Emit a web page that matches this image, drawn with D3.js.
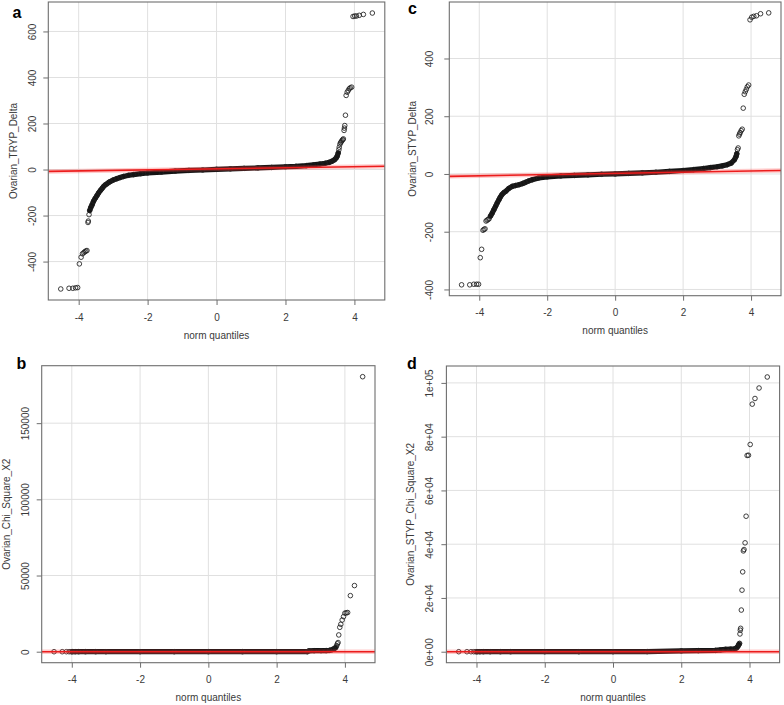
<!DOCTYPE html>
<html><head><meta charset="utf-8">
<script src="https://cdn.jsdelivr.net/npm/d3@7"></script>
<style>body{margin:0;background:#fff}svg{display:block}</style>
</head><body>
<svg id="chart" width="784" height="705"></svg>
<script>
// ---------- data ----------
const xTicks = [-4, -2, 0, 2, 4];
const xTickLabels = ["-4", "-2", "0", "2", "4"];
const xTitle = "norm quantiles";

// Panel a: Ovarian_TRYP_Delta  [norm quantile, value]
const aBody = [[-3.68,-178],[-3.65,-165],[-3.61,-153],[-3.57,-138],[-3.52,-125],[-3.47,-113],[-3.42,-101],[-3.37,-91],[-3.32,-82],[-3.28,-74],[-3.23,-67],[-3.18,-62],[-3.13,-56],[-3.08,-52],[-2.99,-45],[-2.9,-40],[-2.8,-35],[-2.7,-30],[-2.55,-25],[-2.41,-22],[-2.2,-18],[-2.0,-15],[-1.6,-11],[-1.2,-7],[-0.8,-4],[-0.4,-2],[0,1],[0.4,3],[0.8,5],[1.2,7],[1.6,9],[2.0,12],[2.3,14],[2.6,17],[2.8,20],[3.0,24],[3.15,27],[3.27,31],[3.35,36],[3.42,42],[3.47,50],[3.50,58],[3.53,72]];
const aOut = [[-4.52,-519],[-4.28,-516],[-4.17,-516],[-4.09,-514],[-4.03,-513],[-3.98,-410],[-3.93,-381],[-3.89,-366],[-3.85,-361],[-3.82,-357],[-3.79,-354],[-3.76,-352],[-3.73,-230],[-3.72,-224],[-3.70,-196],[3.55,86],[3.56,97],[3.58,110],[3.60,117],[3.62,121],[3.64,126],[3.66,130],[3.68,133],[3.70,170],[3.71,180],[3.72,191],[3.74,236],[3.76,322],[3.79,336],[3.82,343],[3.85,351],[3.88,355],[3.92,358],[3.96,665],[4.01,667],[4.06,667],[4.14,670],[4.26,674],[4.52,680]];
const aLine = [3, 2.3];            // qqline intercept, slope
const aYTicks = [-400, -200, 0, 200, 400, 600];
const aYLabels = ["-400", "-200", "0", "200", "400", "600"];

// Panel c: Ovarian_STYP_Delta
const cBody = [[-3.67,-146],[-3.62,-136],[-3.57,-124],[-3.52,-112],[-3.47,-100],[-3.42,-89],[-3.38,-80],[-3.33,-71],[-3.28,-65],[-3.22,-60],[-3.13,-50],[-3.03,-43],[-2.93,-40],[-2.83,-37],[-2.72,-33],[-2.64,-29],[-2.54,-24],[-2.44,-20],[-2.25,-14],[-2.0,-10],[-1.6,-7],[-1.2,-5],[-0.8,-3],[-0.4,-1],[0,0],[0.4,2],[0.8,4],[1.2,6],[1.6,9],[2.0,12],[2.3,15],[2.6,19],[2.8,22],[3.0,25],[3.15,28],[3.3,32],[3.42,38],[3.51,49],[3.56,61],[3.58,70]];
const cOut = [[-4.52,-384],[-4.28,-384],[-4.16,-382],[-4.08,-382],[-4.02,-382],[-3.97,-290],[-3.93,-261],[-3.89,-195],[-3.86,-192],[-3.83,-190],[-3.80,-163],[-3.77,-160],[-3.74,-158],[-3.71,-155],[3.60,84],[3.62,90],[3.64,132],[3.66,138],[3.68,143],[3.71,150],[3.74,155],[3.77,228],[3.80,276],[3.83,285],[3.86,293],[3.89,302],[3.93,308],[3.97,534],[4.02,543],[4.08,546],[4.16,548],[4.28,555],[4.52,558]];
const cLine = [2, 2.1];
const cYTicks = [-400, -200, 0, 200, 400];
const cYLabels = ["-400", "-200", "0", "200", "400"];

// Panel b: Ovarian_Chi_Square_X2
const bBody = [[-3.98,0],[-3.9,0],[-3.8,0],[-3.6,0],[-3.3,0],[-3,0],[-2,0],[-1,0],[0,0],[1,0],[2,0],[2.9,0],[2.95,600],[3.1,650],[3.3,700],[3.45,750],[3.55,900],[3.62,1300],[3.67,1800],[3.72,2500]];
const bOut = [[-4.52,0],[-4.28,0],[-4.16,0],[-4.08,0],[-4.02,0],[3.74,3000],[3.76,4000],[3.78,5200],[3.80,6000],[3.82,11000],[3.85,16000],[3.88,18000],[3.92,20800],[3.96,23000],[4.00,25300],[4.04,25500],[4.08,25700],[4.16,36800],[4.28,43400],[4.52,180500]];
const bLine = [0, 0];
const bYTicks = [0, 50000, 100000, 150000];
const bYLabels = ["0", "50000", "100000", "150000"];

// Panel d: Ovarian_STYP_Chi_Square_X2
const dBody = [[-3.98,0],[-3.9,0],[-3.8,0],[-3.6,0],[-3.3,0],[-3,0],[-2,0],[-1,0],[0,0],[1,50],[2,300],[2.5,400],[3.0,500],[3.15,700],[3.3,900],[3.45,950],[3.55,1000],[3.62,1400],[3.66,2000],[3.69,2700]];
const dOut = [[-4.52,0],[-4.28,0],[-4.16,0],[-4.08,0],[-4.02,0],[3.70,3000],[3.71,3100],[3.72,6600],[3.73,8000],[3.74,8700],[3.76,15500],[3.78,22900],[3.80,29700],[3.82,37500],[3.84,38000],[3.87,40500],[3.90,50400],[3.93,73000],[3.97,73100],[4.02,77100],[4.08,92100],[4.16,94200],[4.28,98100],[4.52,102200]];
const dLine = [0, 0];
const dYTicks = [0, 20000, 40000, 60000, 80000, 100000];
const dYLabels = ["0e+00", "2e+04", "4e+04", "6e+04", "8e+04", "1e+05"];

// ---------- layout ----------
const panels = [
  {letter:"a", body:aBody, out:aOut, line:aLine, yTicks:aYTicks, yLabels:aYLabels, yTitle:"Ovarian_TRYP_Delta",
   box:{l:48.3, r:384.8, t:2, b:300}, tickOff:16.3, titleOff:35.2, letterX:12.5, letterY:17.5},
  {letter:"c", body:cBody, out:cOut, line:cLine, yTicks:cYTicks, yLabels:cYLabels, yTitle:"Ovarian_STYP_Delta",
   box:{l:449.3, r:781, t:2, b:295.7}, tickOff:20, titleOff:36.4, letterX:408, letterY:13.5},
  {letter:"b", body:bBody, out:bOut, line:bLine, yTicks:bYTicks, yLabels:bYLabels, yTitle:"Ovarian_Chi_Square_X2",
   box:{l:41.7, r:375, t:365.7, b:662.7}, tickOff:16.5, titleOff:35, letterX:16.5, letterY:368.5},
  {letter:"d", body:dBody, out:dOut, line:dLine, yTicks:dYTicks, yLabels:dYLabels, yTitle:"Ovarian_STYP_Chi_Square_X2",
   box:{l:446.4, r:779.6, t:366, b:662.7}, tickOff:17, titleOff:36, letterX:407, letterY:368.5}
];

const FONT = "'Liberation Sans', Arial, Helvetica, sans-serif";
const svg = d3.select("#chart");

function padded(ext) {           // R style 4% axis extension
  const d = (ext[1] - ext[0]) * 0.04;
  return [ext[0] - d, ext[1] + d];
}

panels.forEach((p, pi) => {
  const all = p.body.concat(p.out);
  const bx = p.box;
  const x = d3.scaleLinear().domain(padded(d3.extent(all, d => d[0]))).range([bx.l, bx.r]);
  const y = d3.scaleLinear().domain(padded(d3.extent(all, d => d[1]))).range([bx.b, bx.t]);
  const g = svg.append("g");

  // grid
  g.append("g").selectAll("line").data(xTicks).join("line")
    .attr("x1", d => x(d)).attr("x2", d => x(d)).attr("y1", bx.t).attr("y2", bx.b)
    .attr("stroke", "#e0e0e0").attr("stroke-width", 1);
  g.append("g").selectAll("line").data(p.yTicks).join("line")
    .attr("y1", d => y(d)).attr("y2", d => y(d)).attr("x1", bx.l).attr("x2", bx.r)
    .attr("stroke", "#e0e0e0").attr("stroke-width", 1);

  // dense body of points
  const line = d3.line().x(d => x(d[0])).y(d => y(d[1]));
  g.append("path").datum(p.body).attr("d", line)
    .attr("fill", "none").attr("stroke", "#141414").attr("stroke-width", 5.2)
    .attr("stroke-linejoin", "round").attr("stroke-linecap", "round");

  g.append("g").selectAll("circle").data(all).join("circle")
    .attr("cx", d => x(d[0])).attr("cy", d => y(d[1])).attr("r", 2.3)
    .attr("fill", "none").attr("stroke", "#1e1e1e").attr("stroke-width", 0.85);

  // qqline (clipped to plot region)
  const cid = "clip" + pi;
  svg.append("clipPath").attr("id", cid).append("rect")
    .attr("x", bx.l).attr("y", bx.t).attr("width", bx.r - bx.l).attr("height", bx.b - bx.t);
  const xd = x.domain();
  const lpts = xd.map(q => [q, p.line[0] + p.line[1] * q]);
  const lg = g.append("g").attr("clip-path", `url(#${cid})`);
  lg.append("path").datum(lpts).attr("d", line).attr("stroke", "rgba(255,70,70,0.28)")
    .attr("stroke-width", 4.5).attr("fill", "none");
  lg.append("path").datum(lpts).attr("d", line).attr("stroke", "#ec1c1c")
    .attr("stroke-width", 1.6).attr("fill", "none");

  // box
  g.append("rect").attr("x", bx.l).attr("y", bx.t).attr("width", bx.r - bx.l).attr("height", bx.b - bx.t)
    .attr("fill", "none").attr("stroke", "#6e6e6e").attr("stroke-width", 1.1);

  // axes
  const ax = g.append("g").attr("transform", `translate(0,${bx.b})`)
    .call(d3.axisBottom(x).tickValues(xTicks).tickSize(5).tickFormat((d, i) => xTickLabels[i]));
  ax.select(".domain").remove();
  ax.selectAll("line").attr("stroke", "#6e6e6e");
  ax.selectAll("text").attr("y", 17.3).attr("dy", "0.35em")
    .attr("fill", "#3a3a3a").style("font-family", FONT).style("font-size", "10px");

  const ay = g.append("g").attr("transform", `translate(${bx.l},0)`)
    .call(d3.axisLeft(y).tickValues(p.yTicks).tickSize(5).tickFormat((d, i) => p.yLabels[i]));
  ay.select(".domain").remove();
  ay.selectAll("line").attr("stroke", "#6e6e6e");
  ay.selectAll("text").attr("x", 0).attr("dy", null)
    .attr("text-anchor", "middle").attr("dominant-baseline", "central")
    .attr("transform", `translate(${-p.tickOff},0) rotate(-90)`)
    .attr("fill", "#3a3a3a").style("font-family", FONT).style("font-size", "10px");

  // titles
  g.append("text").attr("x", (bx.l + bx.r) / 2).attr("y", bx.b + 35)
    .attr("text-anchor", "middle").attr("dominant-baseline", "central")
    .attr("fill", "#3a3a3a").style("font-family", FONT).style("font-size", "10px").text(xTitle);
  g.append("text")
    .attr("transform", `translate(${bx.l - p.titleOff},${(bx.t + bx.b) / 2}) rotate(-90)`)
    .attr("text-anchor", "middle").attr("dominant-baseline", "central")
    .attr("fill", "#3a3a3a").style("font-family", FONT).style("font-size", "10px").text(p.yTitle);

  // panel letter
  g.append("text").attr("x", p.letterX).attr("y", p.letterY)
    .attr("fill", "#000").style("font-family", FONT).style("font-size", "16px")
    .style("font-weight", "bold").text(p.letter);
});
</script>
</body></html>
